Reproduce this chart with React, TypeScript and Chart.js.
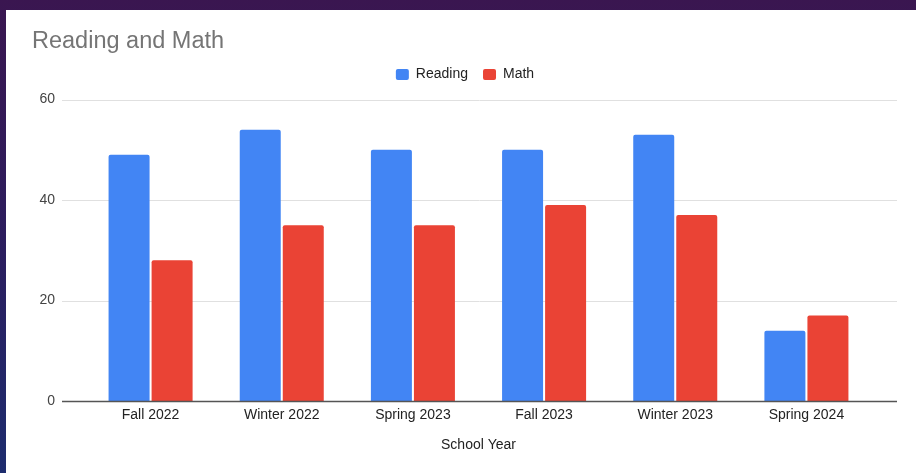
import React, { useEffect, useRef } from "react";
import { Chart, registerables } from "chart.js";

Chart.register(...registerables);

const categories = ["Fall 2022", "Winter 2022", "Spring 2023", "Fall 2023", "Winter 2023", "Spring 2024"];
const readingValues = [49, 54, 50, 50, 53, 14];
const mathValues = [28, 35, 35, 39, 37, 17];
const yTickValues = [0, 20, 40, 60];
const seriesNames = ["Reading", "Math"];
const chartTitle = "Reading and Math";
const xAxisTitle = "School Year";

const FONT = "Arial, 'Liberation Sans', sans-serif";
const LABEL_SIZE = 14;

const extGridPlugin = {
  id: "extGrid",
  beforeDatasetsDraw(chart: any) {
    const y = chart.scales.y;
    const ctx = chart.ctx;
    const left = chart.chartArea.left - 23;
    const right = chart.chartArea.right + 25;
    ctx.save();
    ctx.strokeStyle = "#e0e0e0";
    ctx.lineWidth = 1;
    y.ticks.forEach((t: any) => {
      if (t.value === 0) return;
      const py = Math.round(y.getPixelForValue(t.value)) + 0.5;
      ctx.beginPath();
      ctx.moveTo(left, py);
      ctx.lineTo(right, py);
      ctx.stroke();
    });
    ctx.restore();
  },
  afterDatasetsDraw(chart: any) {
    const y = chart.scales.y;
    const ctx = chart.ctx;
    const left = chart.chartArea.left - 23;
    const right = chart.chartArea.right + 25;
    const py = Math.round(y.getPixelForValue(0)) + 0.5;
    ctx.save();
    ctx.strokeStyle = "#555555";
    ctx.lineWidth = 1.3;
    ctx.beginPath();
    ctx.moveTo(left, py);
    ctx.lineTo(right, py);
    ctx.stroke();
    ctx.restore();
  },
};

export default function App() {
  const canvasRef = useRef<HTMLCanvasElement | null>(null);

  useEffect(() => {
    if (!canvasRef.current) return;
    const chart = new Chart(canvasRef.current, {
      type: "bar",
      data: {
        labels: categories,
        datasets: [
          {
            label: seriesNames[0],
            data: readingValues,
            backgroundColor: "#4285F4",
            borderRadius: { topLeft: 2, topRight: 2, bottomLeft: 0, bottomRight: 0 },
            borderSkipped: "start",
            categoryPercentage: 0.656,
            barPercentage: 0.953,
          },
          {
            label: seriesNames[1],
            data: mathValues,
            backgroundColor: "#EA4335",
            borderRadius: { topLeft: 2, topRight: 2, bottomLeft: 0, bottomRight: 0 },
            borderSkipped: "start",
            categoryPercentage: 0.656,
            barPercentage: 0.953,
          },
        ],
      },
      options: {
        animation: false,
        responsive: true,
        maintainAspectRatio: false,
        layout: { padding: { left: 26, right: 18, top: 0, bottom: 0 } },
        plugins: {
          tooltip: { enabled: false },
          title: {
            display: true,
            text: chartTitle,
            align: "start",
            color: "#757575",
            font: { family: FONT, size: 23.5, weight: "normal", lineHeight: 0.9 },
            padding: { top: 21.4, bottom: 0 },
          },
          legend: {
            display: true,
            position: "top",
            align: "center",
            labels: {
              boxWidth: 13,
              boxHeight: 11,
              useBorderRadius: true,
              borderRadius: 2,
              padding: 15,
              color: "#222222",
              font: { family: FONT, size: LABEL_SIZE },
            },
          },
        },
        scales: {
          x: {
            type: "category",
            offset: true,
            grid: { display: false, drawTicks: false },
            border: { display: false },
            ticks: {
              color: "#222222",
              font: { family: FONT, size: LABEL_SIZE },
              padding: 6,
              maxRotation: 0,
              autoSkip: false,
            },
            title: {
              display: true,
              text: xAxisTitle,
              color: "#222222",
              font: { family: FONT, size: LABEL_SIZE },
              padding: { top: 0, bottom: 19 },
            },
            afterFit: (s: any) => {
              s.height = 72;
            },
          },
          xTopSpacer: {
            type: "category",
            position: "top",
            display: true,
            grid: { display: false, drawTicks: false },
            border: { display: false },
            ticks: { display: false },
            afterFit: (s: any) => {
              s.height = 8;
            },
          },
          y: {
            type: "linear",
            position: "left",
            min: 0,
            max: 60,
            afterBuildTicks: (s: any) => {
              s.ticks = yTickValues.map((v) => ({ value: v }));
            },
            grid: { display: false, drawTicks: false },
            border: { display: false },
            ticks: {
              color: "#444444",
              font: { family: FONT, size: LABEL_SIZE },
              padding: 30,
            },
            afterFit: (s: any) => {
              s.width = 53;
            },
          },
          yRight: {
            type: "linear",
            position: "right",
            display: true,
            grid: { display: false, drawTicks: false },
            border: { display: false },
            ticks: { display: false },
            afterFit: (s: any) => {
              s.width = 26;
            },
          },
        },
      },
      plugins: [extGridPlugin],
    } as any);
    return () => chart.destroy();
  }, []);

  return (
    <div
      style={{
        position: "fixed",
        left: 0,
        top: 0,
        width: 916,
        height: 473,
        overflow: "hidden",
        background: "linear-gradient(180deg, #3a1650 0%, #2c1d5e 50%, #1d2c6e 100%)",
      }}
    >
      <div
        style={{
          position: "absolute",
          left: 6,
          top: 10,
          width: 910,
          height: 463,
          background: "#ffffff",
        }}
      >
        <canvas ref={canvasRef} />
      </div>
    </div>
  );
}
